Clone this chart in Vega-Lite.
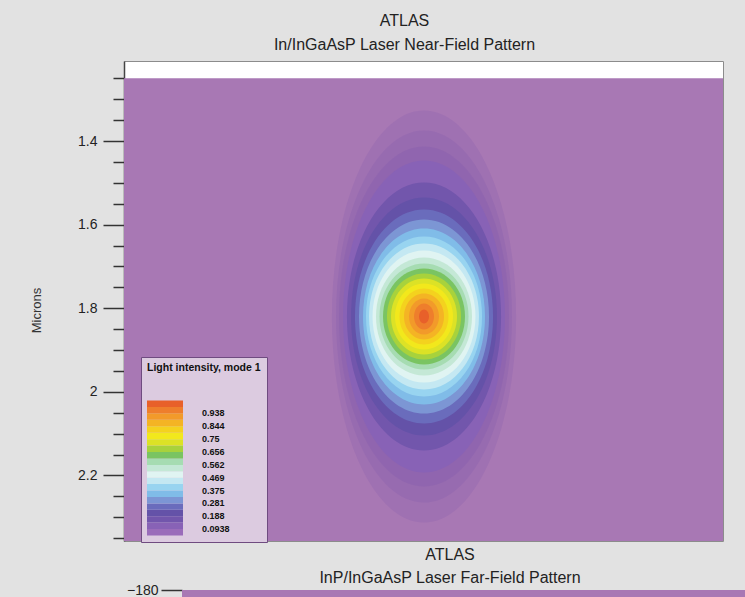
{
  "$schema": "https://vega.github.io/schema/vega-lite/v6.json",
  "background": "#e2e2e2",
  "padding": {"left": 30, "top": 12, "right": 0, "bottom": 0},
  "spacing": 4,
  "config": {
    "font": "Liberation Sans",
    "view": {"stroke": null},
    "axis": {"labelFont": "Liberation Sans", "titleFont": "Liberation Sans", "grid": false}
  },
  "datasets": {
    "rings": [
      {"ring": "H1", "kind": "halo", "level": 0.02, "a": 0.2201, "b": 0.4928, "cx": 0, "cy": 1.82},
      {"ring": "H2", "kind": "halo", "level": 0.045, "a": 0.2105, "b": 0.4450, "cx": 0, "cy": 1.82},
      {"ring": "H3", "kind": "halo", "level": 0.07, "a": 0.2033, "b": 0.4067, "cx": 0, "cy": 1.82},
      {"ring": "R1", "kind": "contour", "level": 0.117, "a": 0.1938, "b": 0.3732, "cx": 0, "cy": 1.82},
      {"ring": "R2", "kind": "contour", "level": 0.164, "a": 0.1842, "b": 0.3206, "cx": 0, "cy": 1.82},
      {"ring": "R3", "kind": "contour", "level": 0.211, "a": 0.1746, "b": 0.2847, "cx": 0, "cy": 1.82},
      {"ring": "R4", "kind": "contour", "level": 0.258, "a": 0.1651, "b": 0.2560, "cx": 0, "cy": 1.82},
      {"ring": "R5", "kind": "contour", "level": 0.305, "a": 0.1555, "b": 0.2321, "cx": 0, "cy": 1.82},
      {"ring": "R6", "kind": "contour", "level": 0.352, "a": 0.1459, "b": 0.2105, "cx": 0, "cy": 1.82},
      {"ring": "R7", "kind": "contour", "level": 0.398, "a": 0.1388, "b": 0.1914, "cx": 0, "cy": 1.82},
      {"ring": "R8", "kind": "contour", "level": 0.445, "a": 0.1316, "b": 0.1746, "cx": 0, "cy": 1.82},
      {"ring": "R9", "kind": "contour", "level": 0.492, "a": 0.1232, "b": 0.1579, "cx": 0, "cy": 1.82},
      {"ring": "R10", "kind": "contour", "level": 0.539, "a": 0.1148, "b": 0.1411, "cx": 0, "cy": 1.82},
      {"ring": "R11", "kind": "contour", "level": 0.586, "a": 0.1065, "b": 0.1268, "cx": 0, "cy": 1.82},
      {"ring": "R12", "kind": "contour", "level": 0.633, "a": 0.0981, "b": 0.1148, "cx": 0, "cy": 1.82},
      {"ring": "R13", "kind": "contour", "level": 0.680, "a": 0.0885, "b": 0.1029, "cx": 0, "cy": 1.82},
      {"ring": "R14", "kind": "contour", "level": 0.727, "a": 0.0789, "b": 0.0909, "cx": 0, "cy": 1.82},
      {"ring": "R15", "kind": "contour", "level": 0.773, "a": 0.0694, "b": 0.0789, "cx": 0, "cy": 1.82},
      {"ring": "R16", "kind": "contour", "level": 0.820, "a": 0.0586, "b": 0.0670, "cx": 0, "cy": 1.82},
      {"ring": "R17", "kind": "contour", "level": 0.867, "a": 0.0478, "b": 0.0550, "cx": 0, "cy": 1.82},
      {"ring": "R18", "kind": "contour", "level": 0.914, "a": 0.0359, "b": 0.0431, "cx": 0, "cy": 1.82},
      {"ring": "R19", "kind": "contour", "level": 0.961, "a": 0.0239, "b": 0.0311, "cx": 0, "cy": 1.82},
      {"ring": "R20", "kind": "contour", "level": 1.0, "a": 0.0120, "b": 0.0167, "cx": 0, "cy": 1.82}
    ]
  },
  "vconcat": [
    {
      "title": {
        "text": "ATLAS",
        "subtitle": "In/InGaAsP Laser Near-Field Pattern",
        "anchor": "middle",
        "dx": -19,
        "font": "Liberation Sans",
        "subtitleFont": "Liberation Sans",
        "fontSize": 16,
        "subtitleFontSize": 16,
        "fontWeight": "normal",
        "color": "#222222",
        "subtitleColor": "#222222",
        "subtitlePadding": 8,
        "offset": 8
      },
      "width": 599,
      "height": 480,
      "view": {"fill": "#ffffff", "stroke": "#8c8c8c", "strokeWidth": 1},
      "resolve": {"axis": {"y": "independent"}},
      "layer": [
        {
          "data": {"values": [{"x1": -0.72, "x2": 0.72, "y1": 1.25, "y2": 2.6}]},
          "mark": {"type": "rect", "fill": "#a878b4", "clip": true},
          "encoding": {
            "x": {"field": "x1", "type": "quantitative", "scale": {"domain": [-0.7177, 0.7153], "nice": false, "zero": false}, "axis": null},
            "x2": {"field": "x2"},
            "y": {
              "field": "y1", "type": "quantitative",
              "scale": {"domain": [1.2086, 2.3569], "reverse": true, "nice": false, "zero": false},
              "axis": {
                "orient": "left",
                "title": "Microns",
                "titleY": 249,
                "values": [1.4, 1.6, 1.8, 2, 2.2],
                "format": "~g",
                "tickSize": 21,
                "tickColor": "#333333",
                "tickWidth": 1.5,
                "domainColor": "#444444",
                "domainWidth": 1.5,
                "labelFontSize": 14,
                "labelColor": "#222222",
                "labelPadding": 6,
                "labelOverlap": false,
                "labelFlush": false,
                "titleFontSize": 13,
                "titleFontWeight": "normal",
                "titleColor": "#333333",
                "titlePadding": 34
              }
            },
            "y2": {"field": "y2"}
          }
        },
        {
          "data": {"name": "rings"},
          "transform": [{"filter": "datum.kind === 'halo'"}],
          "mark": {"type": "point", "filled": true, "fill": "#6a48a8", "fillOpacity": 0.14, "opacity": 1, "strokeWidth": 0},
          "encoding": {
            "x": {"field": "cx", "type": "quantitative", "axis": null},
            "y": {"field": "cy", "type": "quantitative",
              "axis": {
                "orient": "left",
                "title": null,
                "values": [1.25, 1.3, 1.35, 1.45, 1.5, 1.55, 1.65, 1.7, 1.75, 1.85, 1.9, 1.95, 2.05, 2.1, 2.15, 2.25, 2.3, 2.35],
                "labels": false,
                "domain": false,
                "tickSize": 11,
                "tickColor": "#333333",
                "tickWidth": 1.5
              }
            },
            "shape": {"field": "ring", "type": "nominal", "legend": null,
              "scale": {
                "domain": ["H1","H2","H3","R1","R2","R3","R4","R5","R6","R7","R8","R9","R10","R11","R12","R13","R14","R15","R16","R17","R18","R19","R20"],
                "range": [
                  "M0,-1C0.247,-1,0.447,-0.552,0.447,0C0.447,0.552,0.247,1,0,1C-0.247,1,-0.447,0.552,-0.447,0C-0.447,-0.552,-0.247,-1,0,-1Z",
                  "M0,-1C0.261,-1,0.473,-0.552,0.473,0C0.473,0.552,0.261,1,0,1C-0.261,1,-0.473,0.552,-0.473,0C-0.473,-0.552,-0.261,-1,0,-1Z",
                  "M0,-1C0.276,-1,0.5,-0.552,0.5,0C0.5,0.552,0.276,1,0,1C-0.276,1,-0.5,0.552,-0.5,0C-0.5,-0.552,-0.276,-1,0,-1Z",
                  "M0,-1C0.287,-1,0.519,-0.552,0.519,0C0.519,0.552,0.287,1,0,1C-0.287,1,-0.519,0.552,-0.519,0C-0.519,-0.552,-0.287,-1,0,-1Z",
                  "M0,-1C0.318,-1,0.575,-0.552,0.575,0C0.575,0.552,0.318,1,0,1C-0.318,1,-0.575,0.552,-0.575,0C-0.575,-0.552,-0.318,-1,0,-1Z",
                  "M0,-1C0.339,-1,0.613,-0.552,0.613,0C0.613,0.552,0.339,1,0,1C-0.339,1,-0.613,0.552,-0.613,0C-0.613,-0.552,-0.339,-1,0,-1Z",
                  "M0,-1C0.356,-1,0.645,-0.552,0.645,0C0.645,0.552,0.356,1,0,1C-0.356,1,-0.645,0.552,-0.645,0C-0.645,-0.552,-0.356,-1,0,-1Z",
                  "M0,-1C0.37,-1,0.67,-0.552,0.67,0C0.67,0.552,0.37,1,0,1C-0.37,1,-0.67,0.552,-0.67,0C-0.67,-0.552,-0.37,-1,0,-1Z",
                  "M0,-1C0.383,-1,0.693,-0.552,0.693,0C0.693,0.552,0.383,1,0,1C-0.383,1,-0.693,0.552,-0.693,0C-0.693,-0.552,-0.383,-1,0,-1Z",
                  "M0,-1C0.4,-1,0.725,-0.552,0.725,0C0.725,0.552,0.4,1,0,1C-0.4,1,-0.725,0.552,-0.725,0C-0.725,-0.552,-0.4,-1,0,-1Z",
                  "M0,-1C0.416,-1,0.753,-0.552,0.753,0C0.753,0.552,0.416,1,0,1C-0.416,1,-0.753,0.552,-0.753,0C-0.753,-0.552,-0.416,-1,0,-1Z",
                  "M0,-1C0.431,-1,0.78,-0.552,0.78,0C0.78,0.552,0.431,1,0,1C-0.431,1,-0.78,0.552,-0.78,0C-0.78,-0.552,-0.431,-1,0,-1Z",
                  "M0,-1C0.45,-1,0.814,-0.552,0.814,0C0.814,0.552,0.45,1,0,1C-0.45,1,-0.814,0.552,-0.814,0C-0.814,-0.552,-0.45,-1,0,-1Z",
                  "M0,-1C0.464,-1,0.84,-0.552,0.84,0C0.84,0.552,0.464,1,0,1C-0.464,1,-0.84,0.552,-0.84,0C-0.84,-0.552,-0.464,-1,0,-1Z",
                  "M0,-1C0.472,-1,0.854,-0.552,0.854,0C0.854,0.552,0.472,1,0,1C-0.472,1,-0.854,0.552,-0.854,0C-0.854,-0.552,-0.472,-1,0,-1Z",
                  "M0,-1C0.476,-1,0.861,-0.552,0.861,0C0.861,0.552,0.476,1,0,1C-0.476,1,-0.861,0.552,-0.861,0C-0.861,-0.552,-0.476,-1,0,-1Z",
                  "M0,-1C0.479,-1,0.868,-0.552,0.868,0C0.868,0.552,0.479,1,0,1C-0.479,1,-0.868,0.552,-0.868,0C-0.868,-0.552,-0.479,-1,0,-1Z",
                  "M0,-1C0.485,-1,0.879,-0.552,0.879,0C0.879,0.552,0.485,1,0,1C-0.485,1,-0.879,0.552,-0.879,0C-0.879,-0.552,-0.485,-1,0,-1Z",
                  "M0,-1C0.483,-1,0.875,-0.552,0.875,0C0.875,0.552,0.483,1,0,1C-0.483,1,-0.875,0.552,-0.875,0C-0.875,-0.552,-0.483,-1,0,-1Z",
                  "M0,-1C0.48,-1,0.87,-0.552,0.87,0C0.87,0.552,0.48,1,0,1C-0.48,1,-0.87,0.552,-0.87,0C-0.87,-0.552,-0.48,-1,0,-1Z",
                  "M0,-1C0.46,-1,0.833,-0.552,0.833,0C0.833,0.552,0.46,1,0,1C-0.46,1,-0.833,0.552,-0.833,0C-0.833,-0.552,-0.46,-1,0,-1Z",
                  "M0,-1C0.425,-1,0.769,-0.552,0.769,0C0.769,0.552,0.425,1,0,1C-0.425,1,-0.769,0.552,-0.769,0C-0.769,-0.552,-0.425,-1,0,-1Z",
                  "M0,-1C0.394,-1,0.714,-0.552,0.714,0C0.714,0.552,0.394,1,0,1C-0.394,1,-0.714,0.552,-0.714,0C-0.714,-0.552,-0.394,-1,0,-1Z"
                ]
              }
            },
            "size": {"field": "b", "type": "quantitative", "legend": null, "scale": {"type": "pow", "exponent": 2, "domain": [0, 1], "range": [0, 698896]}}
          }
        },
        {
          "data": {"name": "rings"},
          "transform": [{"filter": "datum.kind === 'contour'"}],
          "mark": {"type": "point", "filled": true, "opacity": 1, "strokeWidth": 0},
          "encoding": {
            "x": {"field": "cx", "type": "quantitative", "axis": null},
            "y": {"field": "cy", "type": "quantitative", "axis": null},
            "shape": {"field": "ring", "type": "nominal", "legend": null},
            "size": {"field": "b", "type": "quantitative", "legend": null},
            "color": {
              "field": "level", "type": "quantitative",
              "scale": {
                "type": "threshold",
                "domain": [0.0938, 0.141, 0.188, 0.234, 0.281, 0.328, 0.375, 0.422, 0.469, 0.516, 0.562, 0.609, 0.656, 0.703, 0.75, 0.797, 0.844, 0.891, 0.938, 0.985],
                "range": ["#9a6cba", "#8862b6", "#7256ac", "#6452a8", "#6a6cbc", "#7c96d4", "#80bce8", "#98d4f0", "#c4e8f2", "#e0f4f2", "#c4e8d6", "#a6dcb2", "#7ac462", "#a8d23c", "#dce226", "#f2e81c", "#f4d21e", "#f4b424", "#f29a2a", "#ee7e2c", "#e8602a"]
              },
              "legend": {
                "title": "Light intensity, mode 1",
                "type": "gradient",
                "orient": "none",
                "legendX": 17,
                "legendY": 296,
                "direction": "vertical",
                "fillColor": "#dccbe0",
                "strokeColor": "#6f4b80",
                "padding": 6,
                "titleFont": "Liberation Sans",
                "titleFontSize": 10.5,
                "titleFontWeight": "bold",
                "titleColor": "#111111",
                "titlePadding": 27,
                "gradientLength": 135,
                "gradientThickness": 36,
                "labelFont": "Liberation Sans",
                "labelFontSize": 9,
                "labelFontWeight": "bold",
                "labelColor": "#111111",
                "labelOffset": 19,
                "labelOverlap": false,
                "format": ".3~g",
                "labelExpr": "indexof(['0.0938','0.188','0.281','0.375','0.469','0.562','0.656','0.75','0.844','0.938'], datum.label) >= 0 ? datum.label : ''"
              }
            }
          }
        }
      ]
    },
    {
      "spacing": 0,
      "hconcat": [
        {
          "width": 1,
          "height": 1,
          "data": {"values": []},
          "mark": "rect",
          "encoding": {}
        },
        {
          "title": {
            "text": "ATLAS",
            "subtitle": "InP/InGaAsP Laser Far-Field Pattern",
            "anchor": "middle",
            "dx": -14,
            "font": "Liberation Sans",
            "subtitleFont": "Liberation Sans",
            "fontSize": 16,
            "subtitleFontSize": 16,
            "fontWeight": "normal",
            "color": "#222222",
            "subtitleColor": "#222222",
            "subtitlePadding": 7,
            "offset": -3
          },
          "width": 564,
          "height": 8,
          "view": {"fill": "#a878b4", "stroke": "#9a9a9a"},
          "data": {"values": [{"t1": -90, "t2": 90, "p1": -180, "p2": 180}]},
          "mark": {"type": "rect", "fill": "#a878b4", "clip": true},
          "encoding": {
            "x": {"field": "t1", "type": "quantitative", "scale": {"domain": [-90, 90], "nice": false}, "axis": null},
            "x2": {"field": "t2"},
            "y": {
              "field": "p1", "type": "quantitative",
              "scale": {"domain": [-180, -175], "reverse": true, "nice": false, "zero": false},
              "axis": {"title": null, "values": [-180], "tickSize": 21, "labelPadding": 3, "labelFontSize": 14, "labelColor": "#222222", "tickColor": "#333333", "tickWidth": 1.5, "domainColor": "#444444", "labelFont": "Liberation Sans"}
            },
            "y2": {"field": "p2"}
          }
        }
      ]
    }
  ]
}
